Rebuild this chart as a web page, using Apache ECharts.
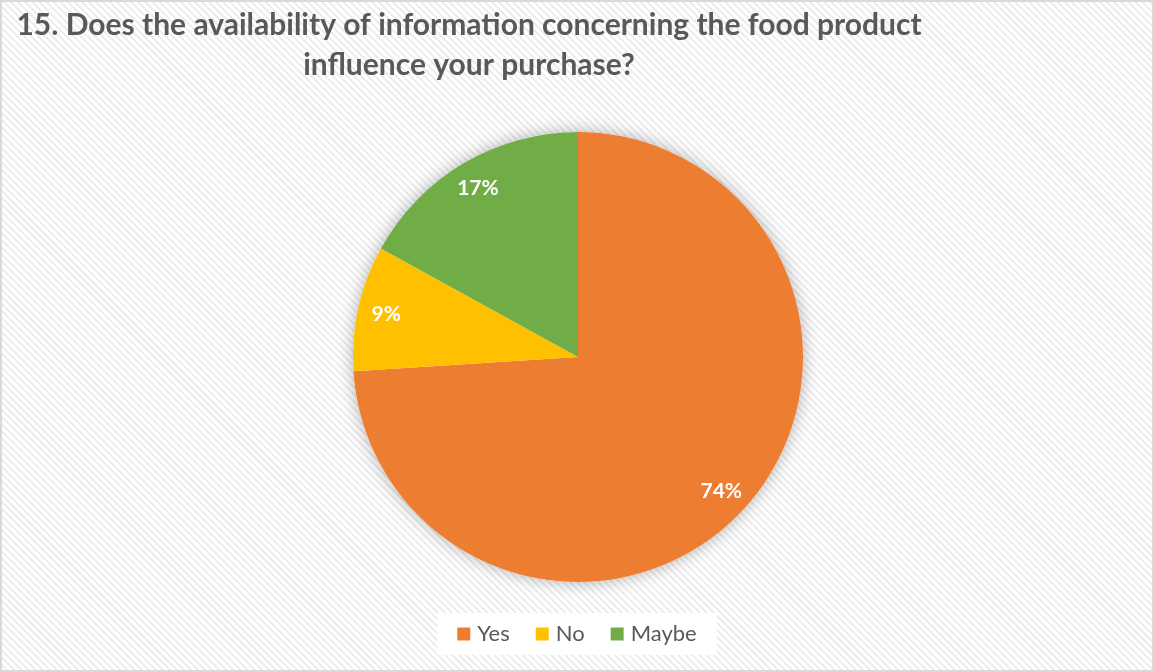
<!DOCTYPE html>
<html>
<head>
<meta charset="utf-8">
<script src="https://cdn.jsdelivr.net/npm/echarts@6/dist/echarts.min.js"></script>
<style>
  html, body { margin: 0; padding: 0; background: #fff; }
  #chart {
    width: 1154px; height: 672px; box-sizing: border-box;
    border: 2px solid #d9d9d9;
    background: repeating-linear-gradient(45deg, #ffffff 0px, #ffffff 2.5px, #ececec 3px, #ececec 4.5px, #ffffff 5px);
  }
</style>
</head>
<body>
<div id="chart"></div>
<script>
// Survey question 15 responses (share of respondents, %)
const categories = ['Yes', 'No', 'Maybe'];
const values = [74, 9, 17];
const colors = ['#ED7D31', '#FFC000', '#70AD47'];
const titleText = '15. Does the availability of information concerning the food product\ninfluence your purchase?';

const chart = echarts.init(document.getElementById('chart'), null, { renderer: 'canvas' });

const slices = categories.map((name, i) => ({ name, value: values[i], itemStyle: { color: colors[i] } }));
const total = values.reduce((a, b) => a + b, 0);
const center = [576, 355];
const radius = 225;

chart.setOption({
  backgroundColor: 'transparent',
  animation: false,
  title: {
    text: titleText,
    left: 462,
    top: -2,
    textAlign: 'center',
    textStyle: {
      fontFamily: 'Lato',
      fontWeight: 'bold',
      fontSize: 30,
      lineHeight: 40,
      color: '#595959'
    }
  },
  legend: {
    data: categories,
    bottom: 15,
    left: 'center',
    icon: 'rect',
    itemWidth: 13,
    itemHeight: 13,
    itemGap: 26,
    padding: [10, 20, 10, 20],
    backgroundColor: '#ffffff',
    textStyle: { fontFamily: 'Lato', fontSize: 22, color: '#595959', padding: [0, 0, 0, 2] }
  },
  series: [
    {
      // soft drop shadow behind the whole disc
      type: 'pie',
      silent: true,
      center: center,
      radius: [0, radius],
      label: { show: false },
      labelLine: { show: false },
      itemStyle: { color: '#ffffff', shadowBlur: 16, shadowColor: 'rgba(0,0,0,0.3)' },
      data: [{ name: '', value: total }],
      z: 1
    },
    {
      type: 'pie',
      center: center,
      radius: [0, radius],
      startAngle: 90,
      clockwise: true,
      label: { show: false },
      labelLine: { show: false },
      data: slices,
      z: 2
    },
    {
      // ring used only to place the percentage labels near the rim
      type: 'pie',
      silent: true,
      center: center,
      radius: [radius * 0.72, radius],
      startAngle: 90,
      clockwise: true,
      itemStyle: { color: 'transparent' },
      label: {
        show: true,
        position: 'inside',
        formatter: '{d}%',
        fontFamily: 'Lato',
        fontWeight: 'bold',
        fontSize: 21,
        color: '#ffffff'
      },
      labelLine: { show: false },
      data: categories.map((name, i) => ({ name, value: values[i] })),
      z: 3
    }
  ]
});
</script>
</body>
</html>
